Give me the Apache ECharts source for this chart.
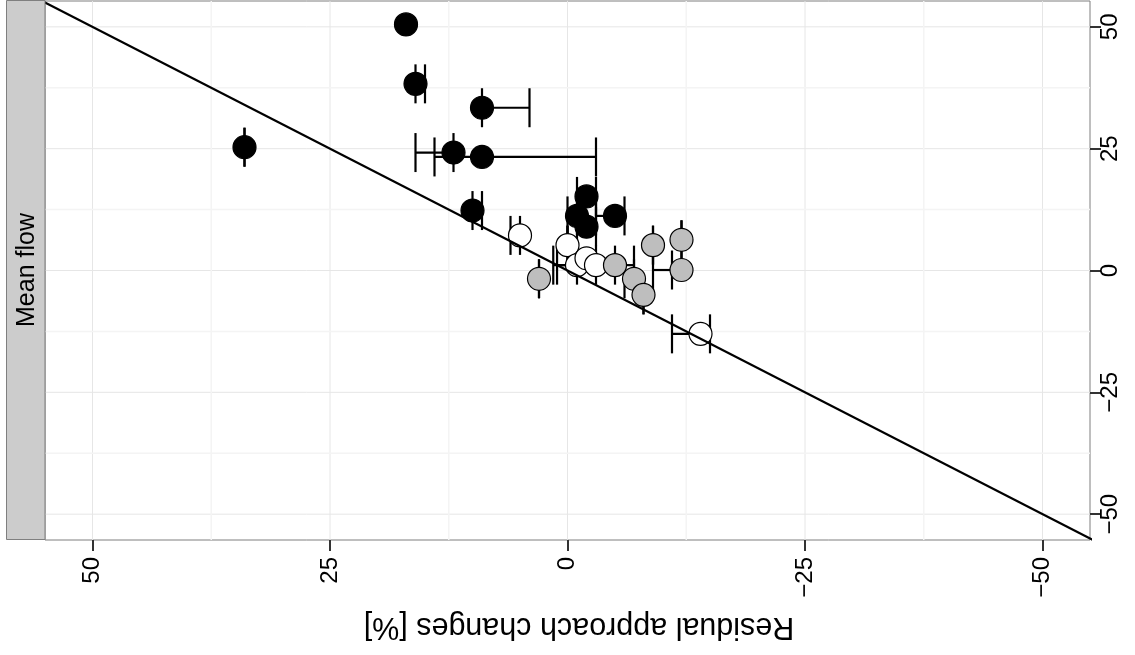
<!DOCTYPE html>
<html><head><meta charset="utf-8">
<script src="https://cdn.jsdelivr.net/npm/echarts@6/dist/echarts.min.js"></script>
<style>html,body{margin:0;padding:0;background:#fff}#c{width:1135px;height:655px}</style>
</head><body><div id="c"></div>
<script>
// ---- data ----
const tickValues = [-50, -25, 0, 25, 50];
const tickLabels = ['\u221250', '\u221225', '0', '25', '50'];
const minorValues = [-37.5, -12.5, 12.5, 37.5];
const axisTitle = 'Residual approach changes [%]';
const panelTitle = 'Mean flow';

// black points
const blackX  = [17, 16, 9, 34, 12, 9, 10, -2, -1, -2, -5];
const blackY  = [50.5, 38.3, 33.4, 25.3, 24.2, 23.3, 12.3, 15.2, 11.2, 9, 11.2];
const blackLo = [null, 15, 4, 34, 12, -3, 9, -3, -1, -3, -6];
const blackHi = [null, 16, 9, 34, 16, 14, 10, -1, 0, -1, -3];
// grey points
const greyX  = [3, -5, -7, -8, -9, -12, -12];
const greyY  = [-1.7, 1.1, -1.7, -5, 5.2, 6.3, 0.1];
const greyLo = [3, -7, -7, -8, -9, -12, -11];
const greyHi = [3, -5, -6, -8, -9, -12, -9];
// white points
const whiteX  = [5, 0, -1, -2, -3, -14];
const whiteY  = [7.2, 5.2, 1.1, 2.5, 1.1, -13];
const whiteLo = [5, 0, -1, null, -3, -15];
const whiteHi = [6, 0, 1.5, null, 1.1, -11];
// identity reference line ends
const refEnds = [-60, 60];

// ---- build ----
const FONT = 'Liberation Sans, Arial, Helvetica, sans-serif';
const pts = (xs, ys) => xs.map((x, i) => [x, ys[i]]);
const bars = [];
function addBars(ys, lo, hi) { ys.forEach((y, i) => { if (lo[i] !== null) bars.push([y, lo[i], hi[i]]); }); }
addBars(whiteY, whiteLo, whiteHi);
addBars(greyY, greyLo, greyHi);
addBars(blackY, blackLo, blackHi);

const gridData = [];
tickValues.forEach(v => { gridData.push([v, 0, 0]); gridData.push([v, 0, 1]); });
minorValues.forEach(v => { gridData.push([v, 1, 0]); gridData.push([v, 1, 1]); });

const CAP = 4;
const chart = echarts.init(document.getElementById('c'), null, {renderer: 'canvas'});
const labelFor = v => { const i = tickValues.indexOf(v); return i >= 0 ? tickLabels[i] : ''; };

chart.setOption({
  animation: false,
  backgroundColor: '#fff',
  grid: {left: 45, right: 45, top: 1, bottom: 115, show: true, borderColor: '#7f7f7f', borderWidth: 1, backgroundColor: 'transparent'},
  xAxis: {
    type: 'value', inverse: true, min: -55, max: 55,
    axisLine: {show: false, onZero: false}, splitLine: {show: false},
    axisTick: {show: true, customValues: tickValues, length: 11, lineStyle: {color: '#333', width: 2}},
    axisLabel: {customValues: tickValues, rotate: 90, fontSize: 24, margin: 17, color: '#000', fontFamily: FONT, formatter: labelFor}
  },
  yAxis: {
    type: 'value', position: 'right', min: -55.3, max: 55.3,
    axisLine: {show: false, onZero: false}, splitLine: {show: false},
    axisTick: {show: true, customValues: tickValues, length: 11, lineStyle: {color: '#333', width: 2}},
    axisLabel: {customValues: tickValues, rotate: 90, fontSize: 24, margin: 8, color: '#000', fontFamily: FONT, formatter: labelFor}
  },
  graphic: [
    {type: 'rect', shape: {x: 6.5, y: 0.5, width: 38.5, height: 539}, style: {fill: '#cccccc', stroke: '#7f7f7f', lineWidth: 1}, z: 10},
    {type: 'text', x: 27, y: 270, rotation: Math.PI / 2, style: {text: panelTitle, fontSize: 25, fontFamily: FONT, fill: '#000', align: 'center', verticalAlign: 'middle'}, z: 11},
    {type: 'text', x: 579, y: 626, rotation: Math.PI, style: {text: axisTitle, fontSize: 30.5, fontFamily: FONT, fill: '#000', align: 'center', verticalAlign: 'middle'}, z: 11}
  ],
  series: [
    {
      type: 'custom', name: 'grid', silent: true, z: 0, data: gridData,
      encode: {x: 0, y: 0},
      renderItem: (params, api) => {
        const cs = params.coordSys;
        const v = api.value(0), minor = api.value(1), horiz = api.value(2);
        const style = {stroke: minor ? '#f4f4f4' : '#e6e6e6', lineWidth: minor ? 1.5 : 1};
        if (horiz) {
          const y = api.coord([0, v])[1];
          return {type: 'line', shape: {x1: cs.x, y1: y, x2: cs.x + cs.width, y2: y}, style};
        }
        const x = api.coord([v, 0])[0];
        return {type: 'line', shape: {x1: x, y1: cs.y, x2: x, y2: cs.y + cs.height}, style};
      }
    },
    {
      type: 'custom', name: 'errorbars', silent: true, z: 2, data: bars,
      encode: {x: [1, 2], y: 0},
      renderItem: (params, api) => {
        const y = api.value(0), lo = api.value(1), hi = api.value(2);
        const a = api.coord([lo, y]), b = api.coord([hi, y]);
        const t = api.coord([lo, y + CAP])[1], bt = api.coord([lo, y - CAP])[1];
        const st = {stroke: '#000', lineWidth: 2.2};
        return {type: 'group', children: [
          {type: 'line', shape: {x1: a[0], y1: a[1], x2: b[0], y2: b[1]}, style: st},
          {type: 'line', shape: {x1: a[0], y1: t, x2: a[0], y2: bt}, style: st},
          {type: 'line', shape: {x1: b[0], y1: t, x2: b[0], y2: bt}, style: st}
        ]};
      }
    },
    {type: 'scatter', name: 'white', z: 3, symbolSize: 23, data: pts(whiteX, whiteY), itemStyle: {color: '#ffffff', borderColor: '#000', borderWidth: 1.2, opacity: 1}},
    {type: 'scatter', name: 'grey', z: 4, symbolSize: 23, data: pts(greyX, greyY), itemStyle: {color: '#bebebe', borderColor: '#000', borderWidth: 1.2, opacity: 1}},
    {type: 'scatter', name: 'black', z: 5, symbolSize: 23, data: pts(blackX, blackY), itemStyle: {color: '#000', borderColor: '#000', borderWidth: 1.2, opacity: 1}},
    {type: 'line', name: 'identity', z: 6, symbol: 'none', clip: true, data: refEnds.map(v => [v, v]), lineStyle: {color: '#000', width: 2.2}}
  ]
});
</script></body></html>
